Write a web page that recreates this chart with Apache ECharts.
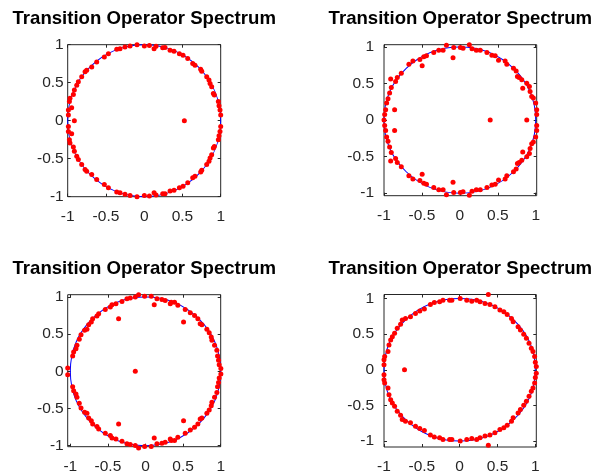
<!DOCTYPE html>
<html><head><meta charset="utf-8">
<script src="https://cdn.jsdelivr.net/npm/echarts@6/dist/echarts.min.js"></script>
<style>html,body{margin:0;padding:0;background:#fff}#c{width:594px;height:476px}</style>
</head><body><div id="c"></div>
<script>
// ---------- data ----------
const titles = ['Transition Operator Spectrum','Transition Operator Spectrum','Transition Operator Spectrum','Transition Operator Spectrum'];
const tickValues = [-1, -0.5, 0, 0.5, 1];
const unitCircle = [[0, 0, 1]]; // centre x, centre y, radius
const xLimits = [[-1.0, 1.0], [-1.0, 1.013], [-1.035, 1.0], [-1.0, 1.013]];
const yLimits = [[-1.0, 1.0], [-1.035, 1.03], [-1.013, 1.03], [-1.083, 1.056]];

const spectrum1 = [
[-0.991,0.142],[-0.978,0.251],[-0.970,0.294],[-0.948,0.172],[-0.926,0.346],[-0.913,0.403],[-0.882,0.468],[-0.861,0.512],[-0.817,0.577],[-0.773,0.643],[-0.752,0.664],[-0.686,0.708],[-0.621,0.773],[-0.521,0.839],[-0.468,0.882],[-0.359,0.939],[-0.316,0.948],[-0.251,0.969],[-0.185,0.983],[-0.094,1.0],[0.002,0.983],[0.068,0.991],[0.129,0.948],[0.155,0.978],[0.242,0.961],[0.272,0.962],[0.338,0.926],[0.39,0.915],[0.46,0.882],[0.508,0.861],[0.569,0.817],[0.634,0.752],[0.664,0.73],[0.738,0.676],[0.752,0.651],[0.817,0.577],[0.847,0.534],[0.861,0.49],[0.882,0.447],[0.904,0.359],[0.917,0.338],[0.969,0.251],[0.978,0.198],[0.991,0.142],[1.0,0.076],[-0.991,0.076],
[-0.991,-0.142],[-0.978,-0.251],[-0.970,-0.294],[-0.948,-0.172],[-0.926,-0.346],[-0.913,-0.403],[-0.882,-0.468],[-0.861,-0.512],[-0.817,-0.577],[-0.773,-0.643],[-0.752,-0.664],[-0.686,-0.708],[-0.621,-0.773],[-0.521,-0.839],[-0.468,-0.882],[-0.359,-0.939],[-0.316,-0.948],[-0.251,-0.969],[-0.185,-0.983],[-0.094,-1.0],[0.002,-0.983],[0.068,-0.991],[0.129,-0.948],[0.155,-0.978],[0.242,-0.961],[0.272,-0.962],[0.338,-0.926],[0.39,-0.915],[0.46,-0.882],[0.508,-0.861],[0.569,-0.817],[0.634,-0.752],[0.664,-0.73],[0.738,-0.676],[0.752,-0.651],[0.817,-0.577],[0.847,-0.534],[0.861,-0.49],[0.882,-0.447],[0.904,-0.359],[0.917,-0.338],[0.969,-0.251],[0.978,-0.198],[0.991,-0.142],[1.0,-0.076],[-0.991,-0.076],
[-0.913,0],[0.525,0]
];

const spectrum2 = [
[-0.991,0.074],[-0.978,0.142],[-0.965,0.233],[-0.947,0.291],[-0.926,0.368],[-0.904,0.445],[-0.912,0.562],[-0.86,0.142],[-0.847,0.526],[-0.825,0.58],[-0.772,0.639],[-0.672,0.761],[-0.619,0.806],[-0.527,0.828],[-0.497,0.743],[-0.475,0.865],[-0.44,0.878],[-0.344,0.923],[-0.278,0.955],[-0.221,0.955],[-0.177,1.023],[-0.09,0.851],[-0.081,0.99],[0.007,0.99],[0.042,0.981],[0.125,1.03],[0.16,0.975],[0.217,0.955],[0.269,0.955],[0.357,0.923],[0.422,0.887],[0.466,0.878],[0.51,0.819],[0.597,0.806],[0.619,0.761],[0.707,0.707],[0.742,0.67],[0.759,0.594],[0.781,0.58],[0.816,0.549],[0.829,0.436],[0.882,0.503],[0.917,0.458],[0.926,0.391],[0.947,0.323],[0.969,0.3],[1.0,0.233],[1.013,0.142],[1.013,0.074],
[-0.991,-0.074],[-0.978,-0.142],[-0.965,-0.233],[-0.947,-0.291],[-0.926,-0.368],[-0.904,-0.445],[-0.912,-0.562],[-0.86,-0.142],[-0.847,-0.526],[-0.825,-0.58],[-0.772,-0.639],[-0.672,-0.761],[-0.619,-0.806],[-0.527,-0.828],[-0.497,-0.743],[-0.475,-0.865],[-0.44,-0.878],[-0.344,-0.923],[-0.278,-0.955],[-0.221,-0.955],[-0.177,-1.023],[-0.09,-0.851],[-0.081,-0.99],[0.007,-0.99],[0.042,-0.981],[0.125,-1.03],[0.16,-0.975],[0.217,-0.955],[0.269,-0.955],[0.357,-0.923],[0.422,-0.887],[0.466,-0.878],[0.51,-0.819],[0.597,-0.806],[0.619,-0.761],[0.707,-0.707],[0.742,-0.67],[0.759,-0.594],[0.781,-0.58],[0.816,-0.549],[0.829,-0.436],[0.882,-0.503],[0.917,-0.458],[0.926,-0.391],[0.947,-0.323],[0.969,-0.3],[1.0,-0.233],[1.013,-0.142],[1.013,-0.074],
[0.882,0],[0.4,0],[-1.0,0]
];

const spectrum3 = [
[-1.035,0.046],[-0.969,0.207],[-0.956,0.26],[-0.925,0.305],[-0.912,0.35],[-0.881,0.43],[-0.858,0.493],[-0.81,0.551],[-0.779,0.564],[-0.756,0.627],[-0.721,0.663],[-0.703,0.707],[-0.646,0.743],[-0.623,0.774],[-0.535,0.832],[-0.468,0.864],[-0.446,0.895],[-0.393,0.908],[-0.358,0.707],[-0.313,0.94],[-0.247,0.975],[-0.203,0.984],[-0.136,0.998],[-0.092,1.03],[-0.012,1.01],[0.076,1.01],[0.116,0.895],[0.152,0.975],[0.218,0.966],[0.262,0.953],[0.329,0.908],[0.342,0.93],[0.386,0.93],[0.43,0.887],[0.506,0.663],[0.528,0.832],[0.595,0.788],[0.652,0.752],[0.696,0.707],[0.727,0.64],[0.75,0.627],[0.816,0.564],[0.847,0.52],[0.874,0.462],[0.883,0.417],[0.918,0.35],[0.949,0.283],[0.958,0.207],[0.971,0.149],[0.98,0.09],[1.002,0.037],
[-1.035,-0.046],[-0.969,-0.207],[-0.956,-0.26],[-0.925,-0.305],[-0.912,-0.35],[-0.881,-0.43],[-0.858,-0.493],[-0.81,-0.551],[-0.779,-0.564],[-0.756,-0.627],[-0.721,-0.663],[-0.703,-0.707],[-0.646,-0.743],[-0.623,-0.774],[-0.535,-0.832],[-0.468,-0.864],[-0.446,-0.895],[-0.393,-0.908],[-0.358,-0.707],[-0.313,-0.94],[-0.247,-0.975],[-0.203,-0.984],[-0.136,-0.998],[-0.092,-1.03],[-0.012,-1.01],[0.076,-1.01],[0.116,-0.895],[0.152,-0.975],[0.218,-0.966],[0.262,-0.953],[0.329,-0.908],[0.342,-0.93],[0.386,-0.93],[0.43,-0.887],[0.506,-0.663],[0.528,-0.832],[0.595,-0.788],[0.652,-0.752],[0.696,-0.707],[0.727,-0.64],[0.75,-0.627],[0.816,-0.564],[0.847,-0.52],[0.874,-0.462],[0.883,-0.417],[0.918,-0.35],[0.949,-0.283],[0.958,-0.207],[0.971,-0.149],[0.98,-0.09],[1.002,-0.037],
[-0.136,0]
];

const spectrum4 = [
[-1.0,0.07],[-1.0,0.14],[-0.991,0.186],[-0.947,0.256],[-0.934,0.349],[-0.912,0.419],[-0.89,0.465],[-0.86,0.512],[-0.825,0.581],[-0.781,0.637],[-0.759,0.698],[-0.716,0.721],[-0.65,0.744],[-0.584,0.791],[-0.527,0.823],[-0.466,0.851],[-0.387,0.916],[-0.335,0.944],[-0.265,0.953],[-0.221,0.977],[-0.133,0.977],[-0.103,0.977],[0.007,1.0],[0.094,0.977],[0.16,0.963],[0.225,0.977],[0.269,0.953],[0.335,0.93],[0.379,1.056],[0.4,0.916],[0.466,0.884],[0.532,0.837],[0.584,0.814],[0.628,0.777],[0.685,0.721],[0.707,0.674],[0.772,0.605],[0.803,0.558],[0.847,0.498],[0.882,0.442],[0.917,0.372],[0.947,0.302],[0.969,0.256],[0.991,0.186],[1.0,0.107],[1.013,0.047],
[-1.0,-0.07],[-1.0,-0.14],[-0.991,-0.186],[-0.947,-0.256],[-0.934,-0.349],[-0.912,-0.419],[-0.89,-0.465],[-0.86,-0.512],[-0.825,-0.581],[-0.781,-0.637],[-0.759,-0.698],[-0.716,-0.721],[-0.65,-0.744],[-0.584,-0.791],[-0.527,-0.823],[-0.466,-0.851],[-0.387,-0.916],[-0.335,-0.944],[-0.265,-0.953],[-0.221,-0.977],[-0.133,-0.977],[-0.103,-0.977],[0.007,-1.0],[0.094,-0.977],[0.16,-0.963],[0.225,-0.977],[0.269,-0.953],[0.335,-0.93],[0.379,-1.06],[0.4,-0.916],[0.466,-0.884],[0.532,-0.837],[0.584,-0.814],[0.628,-0.777],[0.685,-0.721],[0.707,-0.674],[0.772,-0.605],[0.803,-0.558],[0.847,-0.498],[0.882,-0.442],[0.917,-0.372],[0.947,-0.302],[0.969,-0.256],[0.991,-0.186],[1.0,-0.107],[1.013,-0.047],
[-0.729,0]
];
const spectra = [spectrum1, spectrum2, spectrum3, spectrum4];

// ---------- layout (pixels) ----------
const boxes = [
  {left: 67.7, top: 44.7, width: 153, height: 152},
  {left: 384, top: 44.7, width: 152.7, height: 151},
  {left: 67.7, top: 294.7, width: 153, height: 152},
  {left: 384, top: 294.5, width: 152.3, height: 152.5}
];
const yLabelMargin = [4, 10, 4, 10];
const titleCenters = [[144.2, 18.5], [460.3, 18.5], [144.2, 268.5], [460.3, 268.5]];

const INK = '#262626';
const FONT = 'Liberation Sans, Arial, Helvetica, sans-serif';

const grid = [], xAxis = [], yAxis = [], series = [], graphic = [];
boxes.forEach((b, k) => {
  grid.push({left: b.left, top: b.top, width: b.width, height: b.height, show: true,
    borderColor: INK, borderWidth: 1, backgroundColor: 'transparent', containLabel: false});
  const common = (lim) => ({
    type: 'value', gridIndex: k, min: lim[0], max: lim[1], scale: true,
    axisLine: {show: false, onZero: false}, splitLine: {show: false},
    axisTick: {show: true, inside: true, length: 3, lineStyle: {color: INK, width: 1}, customValues: tickValues}
  });
  xAxis.push(Object.assign(common(xLimits[k]), {position: 'bottom',
    axisLabel: {show: true, customValues: tickValues, margin: 12, color: INK, fontSize: 15.5, fontFamily: FONT,
      formatter: v => String(v)}}));
  xAxis.push(Object.assign(common(xLimits[k]), {position: 'top', axisLabel: {show: false}}));
  yAxis.push(Object.assign(common(yLimits[k]), {position: 'left',
    axisLabel: {show: true, customValues: tickValues, margin: yLabelMargin[k], color: INK, fontSize: 15.5, fontFamily: FONT,
      formatter: v => String(v)}}));
  yAxis.push(Object.assign(common(yLimits[k]), {position: 'right', axisLabel: {show: false}}));

  // unit circle: one point at the centre drawn as an elliptic ring whose size comes from the axis scales
  series.push({
    id: 'circle' + k, type: 'scatter', xAxisIndex: 2 * k, yAxisIndex: 2 * k,
    data: unitCircle.map(c => [c[0], c[1]]), clip: false, silent: true, z: 2,
    symbol: 'circle', symbolSize: 1,
    itemStyle: {color: 'rgba(0,0,0,0)', borderColor: '#0000ff', borderWidth: 1, opacity: 1}
  });
  series.push({
    type: 'scatter', xAxisIndex: 2 * k, yAxisIndex: 2 * k, data: spectra[k], clip: false, silent: true, z: 3,
    symbol: 'circle', symbolSize: 5, itemStyle: {color: '#ff0000', opacity: 1}
  });
  graphic.push({type: 'text', x: titleCenters[k][0], y: titleCenters[k][1], z: 10,
    style: {text: titles[k], fill: '#000', font: 'bold 18.6px ' + FONT, textAlign: 'center', textVerticalAlign: 'middle'}});
});

const chart = echarts.init(document.getElementById('c'), null, {renderer: 'canvas'});
chart.setOption({animation: false, backgroundColor: '#fff', grid, xAxis, yAxis, series, graphic});

// size the ring from the library's own scales
const update = boxes.map((b, k) => {
  const c = unitCircle[0];
  const p0 = chart.convertToPixel({xAxisIndex: 2 * k, yAxisIndex: 2 * k}, [c[0], c[1]]);
  const p1 = chart.convertToPixel({xAxisIndex: 2 * k, yAxisIndex: 2 * k}, [c[0] + c[2], c[1] + c[2]]);
  return {id: 'circle' + k, symbolSize: [2 * Math.abs(p1[0] - p0[0]), 2 * Math.abs(p1[1] - p0[1])]};
});
chart.setOption({series: update});
</script>
</body></html>
